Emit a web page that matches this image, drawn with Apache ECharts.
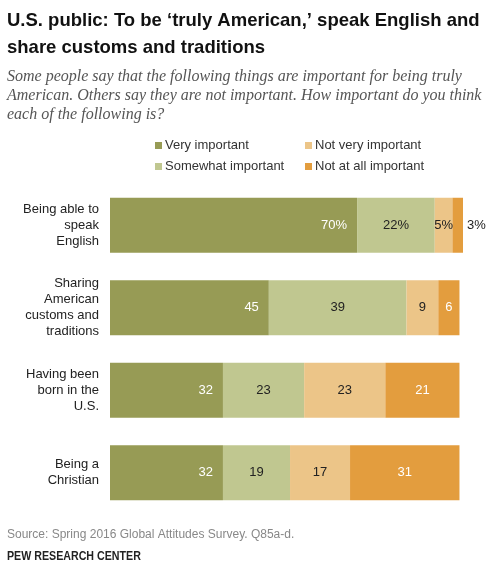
<!DOCTYPE html>
<html>
<head>
<meta charset="utf-8">
<script src="https://cdn.jsdelivr.net/npm/echarts@6/dist/echarts.min.js"></script>
<style>html,body{margin:0;padding:0;background:#fff}#c{width:499px;height:582px}</style>
</head>
<body>
<div id="c"></div>
<script>
var categories = ["Being able to\nspeak\nEnglish", "Sharing\nAmerican\ncustoms and\ntraditions", "Having been\nborn in the\nU.S.", "Being a\nChristian"];
var seriesNames = ["Very important", "Somewhat important", "Not very important", "Not at all important"];
var veryImportant = [70, 45, 32, 32];
var somewhatImportant = [22, 39, 23, 19];
var notVeryImportant = [5, 9, 23, 17];
var notAtAllImportant = [3, 6, 21, 31];
var colors = ["#979b55", "#c0c790", "#ecc588", "#e39d3e"];
var labelColors = ["#ffffff", "#222222", "#222222", "#ffffff"];
var allValues = [veryImportant, somewhatImportant, notVeryImportant, notAtAllImportant];

var FONT = "'Liberation Sans', Arial, sans-serif";

function makeSeries(i) {
  return {
    name: seriesNames[i],
    type: 'bar',
    stack: 'total',
    barWidth: 55,
    itemStyle: { color: colors[i] },
    emphasis: { disabled: true },
    label: {
      show: true,
      position: i === 0 ? 'insideRight' : 'inside',
      distance: 10,
      color: labelColors[i],
      fontFamily: FONT,
      fontSize: 13,
      formatter: function (p) { return p.dataIndex === 0 ? p.value + '%' : String(p.value); }
    },
    data: allValues[i].map(function (v, j) {
      if (i === 3 && j === 0) {
        return { value: v, label: { position: 'right', distance: 4, color: '#222222' } };
      }
      return v;
    })
  };
}

function legendItem(name, left, top) {
  return {
    data: [name], left: left, top: top, itemWidth: 7, itemHeight: 7, icon: 'rect',
    selectedMode: false, padding: 0,
    textStyle: { fontFamily: FONT, fontSize: 13, color: '#333333', padding: [0, 0, 0, -2] }
  };
}

var chart = echarts.init(document.getElementById('c'), null, { renderer: 'canvas' });
chart.setOption({
  animation: false,
  backgroundColor: '#ffffff',
  grid: { left: 110, width: 353, top: 184, height: 330, containLabel: false },
  xAxis: { type: 'value', min: 0, max: 100, show: false },
  yAxis: {
    type: 'category', data: categories, inverse: true,
    axisLine: { show: false }, axisTick: { show: false },
    axisLabel: { fontFamily: FONT, fontSize: 13, color: '#222222', lineHeight: 16, align: 'right', margin: 11 }
  },
  legend: [
    legendItem(seriesNames[0], 155, 139),
    legendItem(seriesNames[2], 305, 139),
    legendItem(seriesNames[1], 155, 160),
    legendItem(seriesNames[3], 305, 160)
  ],
  series: [0, 1, 2, 3].map(makeSeries),
  graphic: [
    { type: 'text', left: 7, top: 7, style: { text: "U.S. public: To be ‘truly American,’ speak English and\nshare customs and traditions", font: "bold 18.5px " + FONT, fill: '#111111', lineHeight: 27 } },
    { type: 'text', left: 7, top: 67, style: { text: "Some people say that the following things are important for being truly\nAmerican. Others say they are not important. How important do you think\neach of the following is?", font: "italic 16px 'Liberation Serif', Georgia, serif", fill: '#555555', lineHeight: 19 } },
    { type: 'text', left: 7, top: 529, style: { text: "Source: Spring 2016 Global Attitudes Survey. Q85a-d.", font: "12px " + FONT, fill: '#888888' } },
    { type: 'text', x: 7, y: 550, scaleX: 0.82, style: { text: "PEW RESEARCH CENTER", font: "bold 13px " + FONT, fill: '#222222' } }
  ]
});
</script>
</body>
</html>
